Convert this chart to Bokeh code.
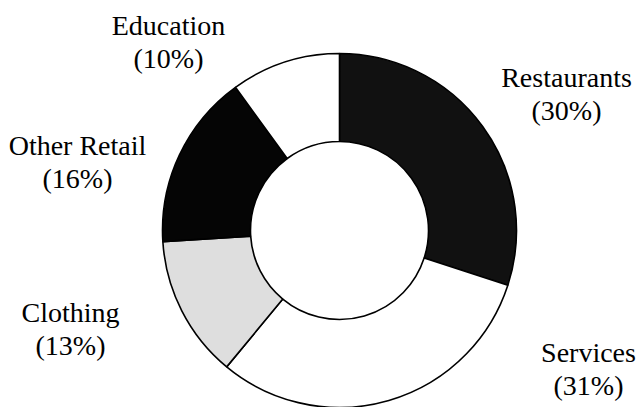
import math
from bokeh.plotting import figure
from bokeh.models import ColumnDataSource, Range1d
from bokeh.core.properties import value
from bokeh.embed import file_html
from bokeh.resources import INLINE

# ---- data ----
categories = ["Restaurants", "Services", "Clothing", "Other Retail", "Education"]
shares = [30, 31, 13, 16, 10]
colors = ["#111111", "#ffffff", "#dedede", "#050505", "#ffffff"]

# ---- layout (picture pixels) ----
W, H = 636, 407
cx, cy = 339, 230          # ring centre
r_out, r_in = 177, 89
label_x = [566, 588, 70, 77, 168]
label_base = [77, 352, 312, 145, 25]
line_gap = 33

total = float(sum(shares))
starts, ends = [], []
acc = 0.0
for s in shares:
    starts.append(math.pi / 2 - 2 * math.pi * acc / total)
    acc += s
    ends.append(math.pi / 2 - 2 * math.pi * acc / total)


def dy(page_y):
    return 415 - page_y


src = ColumnDataSource(dict(
    x=[cx] * len(shares), y=[dy(cy)] * len(shares),
    start=starts, end=ends, color=colors,
))

lab = ColumnDataSource(dict(
    x=label_x,
    y1=[dy(b) for b in label_base],
    y2=[dy(b + line_gap) for b in label_base],
    name=categories,
    pct=["(%d%%)" % s for s in shares],
))

p = figure(width=W, height=H, output_backend="svg", toolbar_location=None,
           x_range=Range1d(0, W), y_range=Range1d(415 - H, 415),
           min_border=0)
p.axis.visible = False
p.grid.visible = False
p.outline_line_color = None
p.background_fill_color = "white"
p.border_fill_color = "white"

p.annular_wedge(x="x", y="y", inner_radius=r_in, outer_radius=r_out,
                inner_radius_units="screen", outer_radius_units="screen",
                start_angle="start", end_angle="end", direction="clock",
                fill_color="color", line_color="black", line_width=1.6,
                source=src)

common = dict(text_font=value("Liberation Serif"), text_font_size="28px",
              text_color="black", text_align="center",
              text_baseline="alphabetic", source=lab)
p.text(x="x", y="y1", text="name", **common)
p.text(x="x", y="y2", text="pct", **common)

open("out.html", "w").write(file_html(p, INLINE))
